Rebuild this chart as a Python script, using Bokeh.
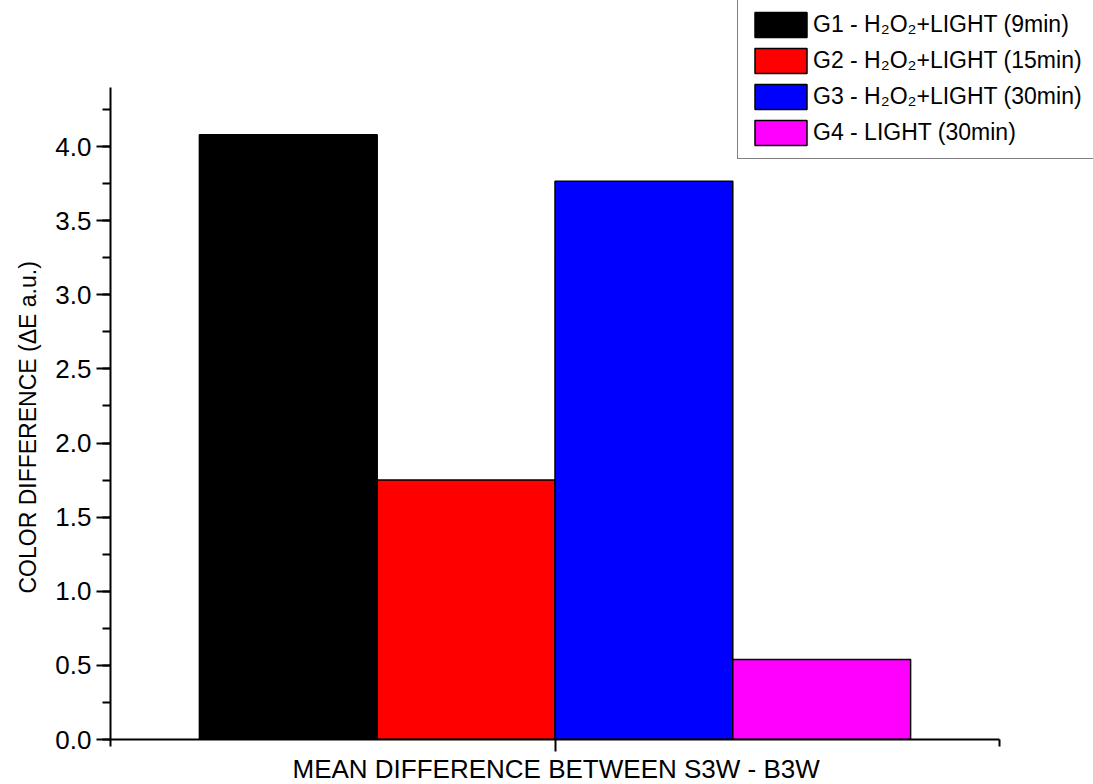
from bokeh.plotting import figure
from bokeh.models import (ColumnDataSource, Range1d, FixedTicker, SingleIntervalTicker,
                          PrintfTickFormatter, Legend, LegendItem, Title)
from bokeh.embed import file_html
from bokeh.resources import INLINE
import numpy as np

groups = ["G1", "G2", "G3", "G4"]
labels = [
    "G1 - H\u2082O\u2082+LIGHT (9min)",
    "G2 - H\u2082O\u2082+LIGHT (15min)",
    "G3 - H\u2082O\u2082+LIGHT (30min)",
    "G4 - LIGHT (30min)",
]
values = [4.08, 1.75, 3.765, 0.54]
colors = ["#000000", "#FF0000", "#0000FF", "#FF00FF"]
x_category = "MEAN DIFFERENCE BETWEEN S3W - B3W"
y_title = "COLOR DIFFERENCE (\u0394E a.u.)"
y_axis_max = 4.4

n = len(groups)
offsets = np.arange(n) - (n - 1) / 2.0
src = ColumnDataSource(dict(x=offsets, top=values, color=colors, label=labels))

FONT = "Liberation Sans"

W, H = 1093, 784
left, bottom = 110, 45
x_lo, x_hi = -n / 2.0 - 0.5, n / 2.0 + 0.5
px_per_x = 177.8
px_per_y = 148.25
x_end = x_lo + (W - left) / px_per_x
y_end = (H - bottom) / px_per_y

p = figure(width=W, height=H, output_backend="svg", toolbar_location=None,
           x_range=Range1d(x_lo, x_end), y_range=Range1d(0, y_end),
           min_border_left=left, min_border_right=0, min_border_top=0,
           min_border_bottom=bottom)
p.outline_line_color = None
p.xgrid.visible = False
p.ygrid.visible = False
p.background_fill_color = "white"
p.border_fill_color = "white"

r = p.vbar(x="x", top="top", bottom=0, width=1.0, source=src, fill_color="color",
           line_color="black", line_width=1.5)

# y axis
ya = p.yaxis[0]
ya.bounds = (0, y_axis_max)
ya.ticker = SingleIntervalTicker(interval=0.5, num_minor_ticks=2)
ya.formatter = PrintfTickFormatter(format="%.1f")
ya.axis_line_width = 2
ya.major_tick_line_width = 2
ya.minor_tick_line_width = 2
ya.major_tick_out = 14
ya.major_tick_in = 0
ya.minor_tick_out = 8
ya.minor_tick_in = 0
ya.major_label_text_font = FONT
ya.major_label_text_font_size = "26px"
ya.major_label_text_color = "black"
ya.major_label_standoff = 5

# x axis
xa = p.xaxis[0]
xa.bounds = (x_lo, x_hi)
xa.ticker = FixedTicker(ticks=[0.0], minor_ticks=[x_lo, x_hi])
xa.major_label_overrides = {0: ""}
xa.major_label_text_font_size = "1px"
xa.major_label_standoff = 0
xa.axis_line_width = 2
xa.major_tick_line_width = 2
xa.minor_tick_line_width = 2
xa.major_tick_out = 12
xa.major_tick_in = 0
xa.minor_tick_out = 7
xa.minor_tick_in = 0

# axis titles as side titles, offset along the drawn axis extent
ytitle = Title(text=y_title, align="left", vertical_align="top", text_font=FONT,
               text_font_size="23px", text_font_style="normal", text_color="black",
               standoff=20, offset=146)
p.add_layout(ytitle, "left")
xtitle = Title(text=x_category, align="left", text_font=FONT, text_font_size="26px",
               text_font_style="normal", text_color="black", standoff=0, offset=182)
p.add_layout(xtitle, "below")

legend = Legend(items=[LegendItem(label=labels[i], renderers=[r], index=i) for i in range(n)],
                location=(627, 580))
legend.label_text_font = FONT
legend.label_text_font_size = "23px"
legend.label_text_color = "black"
legend.label_width = 300
legend.glyph_width = 65
legend.glyph_height = 31
legend.spacing = 5
legend.padding = 10
legend.margin = 0
legend.label_standoff = 0
legend.border_line_color = "black"
legend.border_line_width = 1.5
legend.background_fill_alpha = 1.0
p.add_layout(legend, "center")

open("out.html", "w").write(file_html(p, INLINE))
